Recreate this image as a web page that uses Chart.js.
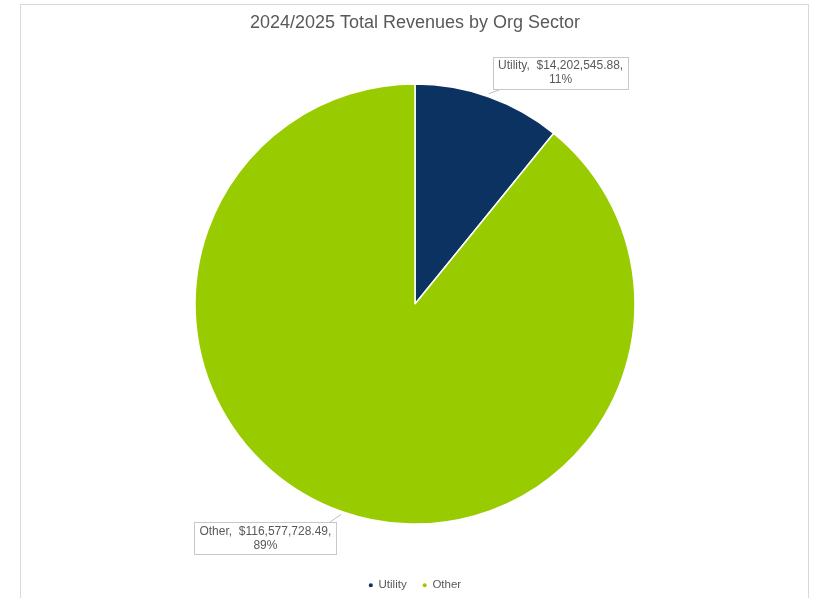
<!DOCTYPE html>
<html>
<head>
<meta charset="utf-8">
<script src="https://cdn.jsdelivr.net/npm/chart.js@4"></script>
<style>
  html, body { margin: 0; padding: 0; background: #fff; }
  #frame { position: absolute; left: 20px; top: 4px; width: 787px; height: 610px; border: 1px solid #d9d9d9; border-bottom: none; }
  #wrap { position: absolute; left: 0; top: 0; width: 815px; height: 598px; }
</style>
</head>
<body>
<div id="frame"></div>
<div id="wrap"><canvas id="myChart"></canvas></div>
<script>
const chartTitle = '2024/2025 Total Revenues by Org Sector';
const sectors = ['Utility', 'Other'];
const revenues = [14202545.88, 116577728.49];
const colors = ['#0b3260', '#99cc00'];

// label box offsets from the slice edge point (px)
const calloutOffsets = [{ dx: 72, dy: -24, lx: -58, ly: 16 }, { dx: -76, dy: 27, lx: 64, ly: -16 }];

function money(v) {
  return '$' + v.toLocaleString('en-US', { minimumFractionDigits: 2, maximumFractionDigits: 2 });
}

const calloutPlugin = {
  id: 'callouts',
  afterDatasetsDraw(chart) {
    const ctx = chart.ctx;
    const meta = chart.getDatasetMeta(0);
    const total = revenues.reduce((a, b) => a + b, 0);
    ctx.save();
    ctx.font = '12px "Liberation Sans", Arial, sans-serif';
    meta.data.forEach((arc, i) => {
      const mid = (arc.startAngle + arc.endAngle) / 2;
      const ex = arc.x + Math.cos(mid) * arc.outerRadius;
      const ey = arc.y + Math.sin(mid) * arc.outerRadius;
      const off = calloutOffsets[i];
      const line1 = sectors[i] + ',  ' + money(revenues[i]) + ',';
      const line2 = Math.round(revenues[i] / total * 100) + '%';
      const w = ctx.measureText(line1).width + 10;
      const h = 32;
      const cx = ex + off.dx, cy = ey + off.dy;
      const bx = cx - w / 2, by = cy - h / 2;
      // leader line
      ctx.strokeStyle = '#bfbfbf';
      ctx.lineWidth = 1;
      ctx.beginPath();
      ctx.moveTo(ex, ey + 3 * Math.sign(off.dy));
      ctx.lineTo(cx + off.lx, cy + off.ly);
      ctx.stroke();
      // box
      ctx.fillStyle = '#ffffff';
      ctx.fillRect(bx, by, w, h);
      ctx.strokeStyle = '#c8c8c8';
      ctx.strokeRect(Math.round(bx) + 0.5, Math.round(by) + 0.5, Math.round(w), h);
      ctx.fillStyle = '#595959';
      ctx.textAlign = 'center';
      ctx.textBaseline = 'middle';
      ctx.fillText(line1, cx, cy - 7);
      ctx.fillText(line2, cx, cy + 7);
    });
    ctx.restore();
  }
};

const ctx = document.getElementById('myChart').getContext('2d');
let myChart = new Chart(ctx, {
  type: 'pie',
  data: {
    labels: sectors,
    datasets: [{
      data: revenues,
      backgroundColor: colors,
      borderColor: '#ffffff',
      borderWidth: 1.5,
      radius: 220,
    }],
  },
  options: {
    responsive: true,
    maintainAspectRatio: false,
    animation: false,
    layout: { padding: { left: 20, right: 5, top: 0, bottom: -3 } },
    plugins: {
      title: {
        display: true,
        text: chartTitle,
        color: '#595959',
        font: { family: '"Liberation Sans", Arial, sans-serif', size: 18, weight: 'normal' },
        padding: { top: 12, bottom: 11 },
      },
      legend: {
        position: 'bottom',
        labels: {
          usePointStyle: true,
          pointStyle: 'circle',
          boxWidth: 4,
          boxHeight: 4,
          padding: 16,
          color: '#595959',
          font: { family: '"Liberation Sans", Arial, sans-serif', size: 11.5 },
        },
      },
      tooltip: { enabled: false },
    },
  },
  plugins: [calloutPlugin],
});
</script>
</body>
</html>
